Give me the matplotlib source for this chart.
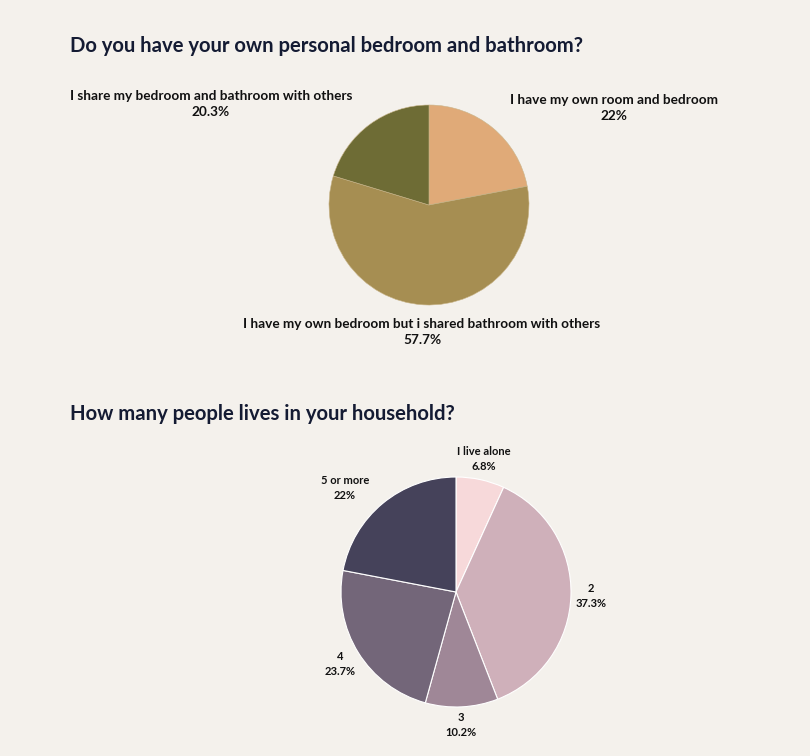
import matplotlib
matplotlib.use('Agg')
import matplotlib.pyplot as plt

# ── data ──────────────────────────────────────────────
TITLE_1 = 'Do you have your own personal bedroom and bathroom?'
ROOM_LABELS = ['I have my own room and bedroom',
               'I have my own bedroom but i shared bathroom with others',
               'I share my bedroom and bathroom with others']
ROOM_PCT = [22, 57.7, 20.3]

TITLE_2 = 'How many people lives in your household?'
HOUSE_LABELS = ['I live alone', '2', '3', '4', '5 or more']
HOUSE_PCT = [6.8, 37.3, 10.2, 23.7, 22]

# ── style ─────────────────────────────────────────────
BG = '#F4F1EC'
TITLE_COLOR = '#141B33'
TEXT_COLOR = '#111111'
ROOM_COLORS = ['#E0AA78', '#A68E52', '#6E6C35']
HOUSE_COLORS = ['#F7D9DA', '#CFB0BA', '#9F8797', '#736679', '#45425A']
FONT = ['Lato', 'DejaVu Sans']

W, H = 810, 756

# label positions in pixels (x, y from top)
ROOM_LABEL_POS = [(614, 108), (422, 332), (211, 104)]
HOUSE_LABEL_POS = [(484, 459), (591, 596), (461, 725), (340, 664), (345, 488)]


def fmt(v):
    return f'{v:g}%'


def pie_axes(fig, cx, cy, r):
    return fig.add_axes([(cx - r) / W, (H - cy - r) / H, 2 * r / W, 2 * r / H])


fig = plt.figure(figsize=(W / 100, H / 100), dpi=100, facecolor=BG)

# ── chart 1 ──
fig.text(70 / W, 1 - 46 / H, TITLE_1, fontsize=14.6, fontweight='bold',
         color=TITLE_COLOR, family=FONT, va='center', ha='left')
ax1 = pie_axes(fig, 429, 205, 100)
ax1.pie(ROOM_PCT, colors=ROOM_COLORS, startangle=90, counterclock=False,
        wedgeprops=dict(edgecolor='#C9B58A', linewidth=0.4))
ax1.set_xlim(-1, 1)
ax1.set_ylim(-1, 1)
ax1.axis('off')
for lab, v, (x, y) in zip(ROOM_LABELS, ROOM_PCT, ROOM_LABEL_POS):
    fig.text(x / W, 1 - y / H, f'{lab}\n{fmt(v)}', fontsize=9.8,
             fontweight='bold', color=TEXT_COLOR, family=FONT,
             ha='center', va='center', linespacing=1.4)

# ── chart 2 ──
fig.text(70 / W, 1 - 414 / H, TITLE_2, fontsize=14.6, fontweight='bold',
         color=TITLE_COLOR, family=FONT, va='center', ha='left')
ax2 = pie_axes(fig, 456, 592, 115)
ax2.pie(HOUSE_PCT, colors=HOUSE_COLORS, startangle=90, counterclock=False,
        wedgeprops=dict(edgecolor='white', linewidth=0.8))
ax2.set_xlim(-1, 1)
ax2.set_ylim(-1, 1)
ax2.axis('off')
for lab, v, (x, y) in zip(HOUSE_LABELS, HOUSE_PCT, HOUSE_LABEL_POS):
    fig.text(x / W, 1 - y / H, f'{lab}\n{fmt(v)}', fontsize=8,
             fontweight='bold', color=TEXT_COLOR, family=FONT,
             ha='center', va='center', linespacing=1.35)

fig.savefig('out.png', dpi=100, facecolor=BG)
